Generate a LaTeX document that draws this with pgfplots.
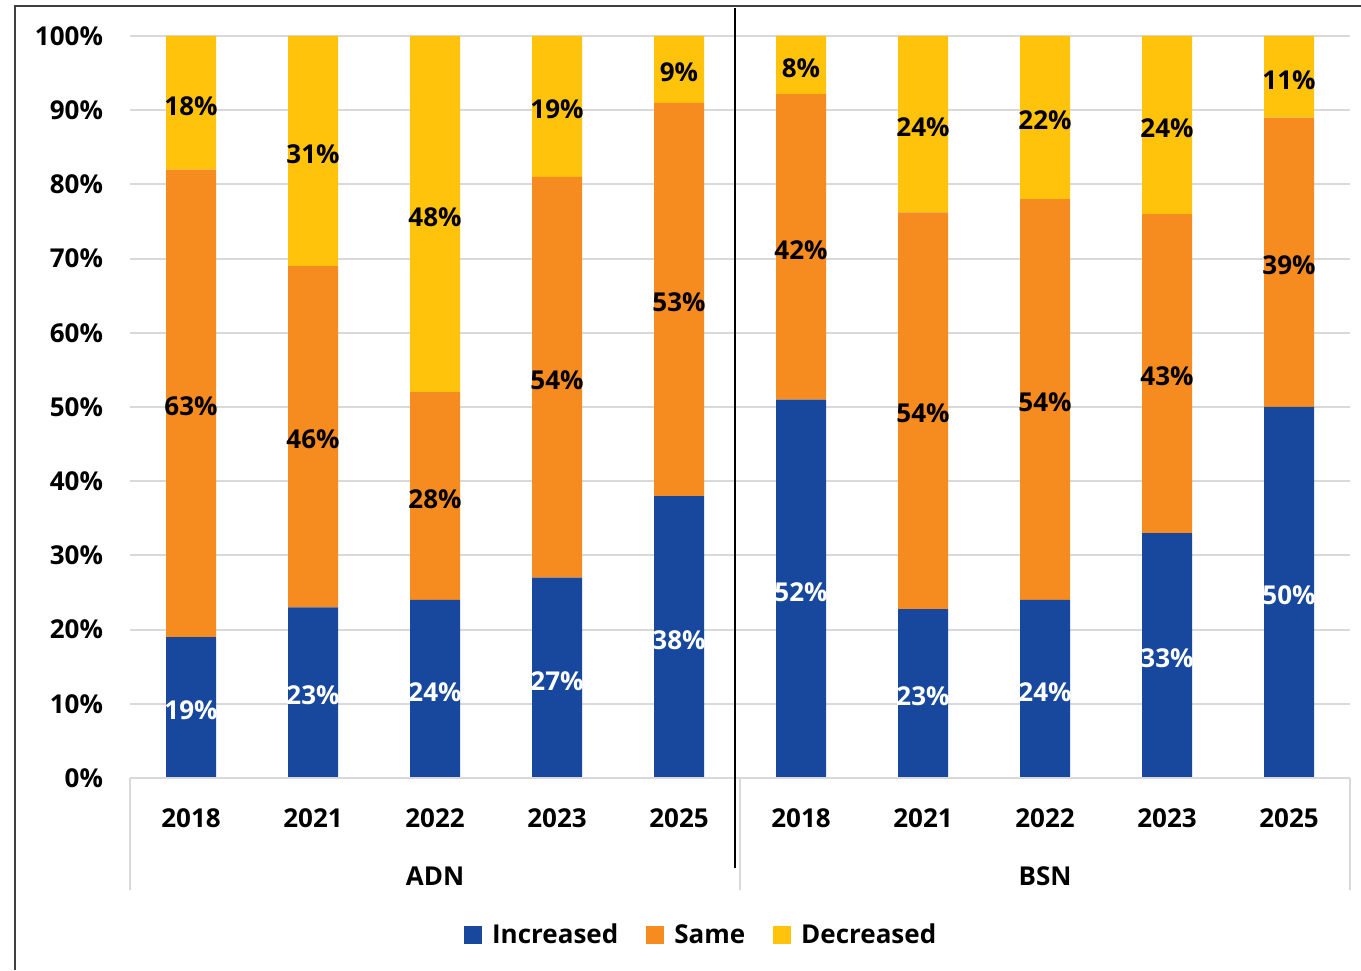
\documentclass[border=0pt]{standalone}
\usepackage{fontspec}
\setmainfont{Open Sans}
\usepackage{pgfplots}
\pgfplotsset{compat=1.18}
\usepackage{pgfplotstable}

\definecolor{incB}{RGB}{23,72,158}
\definecolor{samO}{RGB}{246,139,32}
\definecolor{decY}{RGB}{255,195,11}
\definecolor{gridG}{RGB}{217,217,217}

% ADN 2018..2025, then BSN 2018..2025
\pgfplotstableread{
x inc same dec
0 19 63 18
1 23 46 31
2 24 28 48
3 27 54 19
4 38 53 9
5 52 42 8
6 23 54 24
7 24 54 22
8 33 43 24
9 50 39 11
}\data

\newcommand{\lbl}{\fontsize{13}{15}\selectfont\bfseries}

\tikzset{seglabel/.style={anchor=center, font=\lbl, text=#1, yshift=-1.5pt}}

\pgfplotsset{
  base/.style={scale only axis, width=610pt, height=371pt,
    xmin=-0.5, xmax=9.5, ymin=0, ymax=100,
    at={(65pt,96pt)}, anchor=south west,
    /pgf/number format/assume math mode=true},
}

\begin{document}
\begin{tikzpicture}
\useasboundingbox (0,0) rectangle (680.5pt,485pt);
% outer frame (cropped)
\draw[black!75, line width=1pt] (7.5pt,0) -- (7.5pt,482pt) -- (681pt,482pt);

\begin{axis}[base, ybar stacked, bar width=25pt,
    ytick={0,10,...,100},
    yticklabels={0\%,10\%,20\%,30\%,40\%,50\%,60\%,70\%,80\%,90\%,100\%},
    xtick={0,...,9},
    xticklabels={2018,2021,2022,2023,2025,2018,2021,2022,2023,2025},
    ymajorgrids, grid style={gridG, line width=1pt},
    axis line style={draw=none}, major tick length=0pt,
    tick label style={font=\lbl},
    yticklabel style={xshift=-10pt},
    xticklabel style={yshift=-12pt},
    legend columns=3,
    legend style={draw=none, font=\lbl, at={(0.469,-0.212)}, anchor=center,
      /tikz/every odd column/.append style={column sep=3pt},
      /tikz/every even column/.append style={column sep=12pt}},
    legend image code/.code={\fill[#1] (0pt,-4.5pt) rectangle (9pt,4.5pt);},
  ]
  \addplot[fill=incB, draw=none] table[x=x, y expr={\thisrow{inc}/(\thisrow{inc}+\thisrow{same}+\thisrow{dec})*100}] {\data};
  \addplot[fill=samO, draw=none] table[x=x, y expr={\thisrow{same}/(\thisrow{inc}+\thisrow{same}+\thisrow{dec})*100}] {\data};
  \addplot[fill=decY, draw=none] table[x=x, y expr={\thisrow{dec}/(\thisrow{inc}+\thisrow{same}+\thisrow{dec})*100}] {\data};
  \legend{Increased, Same, Decreased}
\end{axis}

% data labels, centred in each segment
\begin{axis}[base, hide axis, clip=false]
  \addplot[draw=none, mark=none, point meta=\thisrow{inc},
    nodes near coords={\pgfmathprintnumber{\pgfplotspointmeta}\%},
    every node near coord/.style={seglabel=white}]
    table[x=x, y expr={0.5*\thisrow{inc}/(\thisrow{inc}+\thisrow{same}+\thisrow{dec})*100}] {\data};
  \addplot[draw=none, mark=none, point meta=\thisrow{same},
    nodes near coords={\pgfmathprintnumber{\pgfplotspointmeta}\%},
    every node near coord/.style={seglabel=black}]
    table[x=x, y expr={(\thisrow{inc}+0.5*\thisrow{same})/(\thisrow{inc}+\thisrow{same}+\thisrow{dec})*100}] {\data};
  \addplot[draw=none, mark=none, point meta=\thisrow{dec},
    nodes near coords={\pgfmathprintnumber{\pgfplotspointmeta}\%},
    every node near coord/.style={seglabel=black}]
    table[x=x, y expr={(\thisrow{inc}+\thisrow{same}+0.5*\thisrow{dec})/(\thisrow{inc}+\thisrow{same}+\thisrow{dec})*100}] {\data};
\end{axis}

% category axis with group brackets
\draw[gridG, line width=1pt] (65pt,96pt) -- (675pt,96pt);
\foreach \xx in {65pt,370pt,675pt} \draw[gridG, line width=1pt] (\xx,96pt) -- (\xx,40pt);
\node[font=\lbl] at (217.5pt,47pt) {ADN};
\node[font=\lbl] at (522.5pt,47pt) {BSN};
% separator between the groups
\draw[black, line width=1.1pt] (367.5pt,481pt) -- (367.5pt,51pt);
\end{tikzpicture}
\end{document}
